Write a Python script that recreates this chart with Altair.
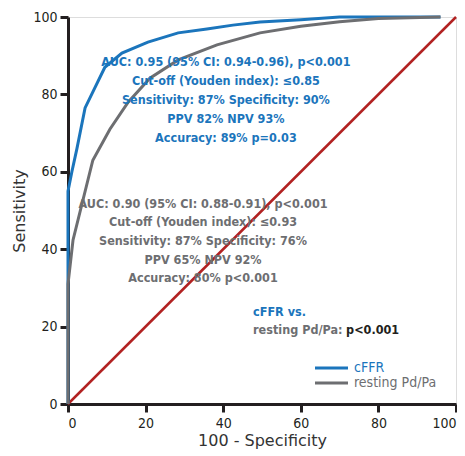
import altair as alt
import pandas as pd

# ROC curve points (x = 100 - specificity, y = sensitivity)
cffr_x = [0, 0, 1, 2.3, 4.4, 9.5, 13.9, 20.6, 28.4, 35.8, 42.5, 49.5, 60, 70, 96]
cffr_y = [0, 55, 60, 66, 76.5, 87, 90.7, 93.5, 95.9, 96.9, 97.9, 98.7, 99.3, 100, 100]
rest_x = [0, 0, 1.3, 6.4, 10.8, 15.5, 21.1, 28.4, 38.4, 49.5, 60, 70, 80, 96]
rest_y = [0, 31, 42.4, 63, 71, 78, 84.2, 88.9, 92.8, 95.9, 97.6, 98.8, 99.6, 100]
diag_x = [0, 100]
diag_y = [0, 100]

series_names = ["cFFR", "resting Pd/Pa"]
series_colors = ["#1b75bc", "#6d6e71"]

blue_lines = [
    "AUC: 0.95 (95% CI: 0.94-0.96), p<0.001",
    "Cut-off (Youden index): \u22640.85",
    "Sensitivity: 87% Specificity: 90%",
    "PPV 82% NPV 93%",
    "Accuracy: 89% p=0.03",
]
blue_text_x = [40.7] * 5
blue_text_y = [88.4, 83.5, 78.6, 73.6, 68.7]

gray_lines = [
    "AUC: 0.90 (95% CI: 0.88-0.91), p<0.001",
    "Cut-off (Youden index): \u22640.93",
    "Sensitivity: 87% Specificity: 76%",
    "PPV 65% NPV 92%",
    "Accuracy: 80% p<0.001",
]
gray_text_x = [34.8] * 5
gray_text_y = [51.7, 47.0, 42.1, 37.2, 32.6]

cmp_x = 47.7
cmp_y1 = 23.8
cmp_y2 = 19.1

FONT = "'DejaVu Sans Condensed', 'Liberation Sans Narrow', 'Roboto', sans-serif"
ANN = 12.5

curves = pd.DataFrame(
    {
        "x": cffr_x + rest_x,
        "y": cffr_y + rest_y,
        "series": [series_names[0]] * len(cffr_x) + [series_names[1]] * len(rest_x),
        "order": list(range(len(cffr_x))) + list(range(len(rest_x))),
    }
)
diag = pd.DataFrame({"x": diag_x, "y": diag_y})

xs = alt.Scale(domain=[0, 100], nice=False)
ys = alt.Scale(domain=[0, 100], nice=False)
cs = alt.Scale(domain=series_names, range=series_colors)

x_axis = alt.Axis(
    values=[0, 20, 40, 60, 80, 100],
    title="100 - Specificity",
    grid=False,
    domainColor="#231f20",
    domainWidth=3,
    tickColor="#231f20",
    tickWidth=3,
    tickSize=8,
    labelFont=FONT,
    labelFontSize=14,
    labelColor="#231f20",
    labelPadding=4,
    titleFont="DejaVu Sans",
    titleFontSize=16,
    titleFontWeight="normal",
    titleColor="#333333",
    titlePadding=2,
)
y_axis = alt.Axis(
    values=[0, 20, 40, 60, 80, 100],
    title="Sensitivity",
    grid=False,
    domainColor="#231f20",
    domainWidth=3,
    tickColor="#231f20",
    tickWidth=3,
    tickSize=8,
    labelFont=FONT,
    labelFontSize=14,
    labelColor="#231f20",
    labelPadding=3,
    titleFont="DejaVu Sans",
    titleFontSize=16,
    titleFontWeight="normal",
    titleColor="#333333",
    titlePadding=5,
)

diag_layer = alt.Chart(diag).mark_line(color="#b22222", strokeWidth=2.5).encode(
    x=alt.X("x:Q", scale=xs, axis=x_axis),
    y=alt.Y("y:Q", scale=ys, axis=y_axis),
)

curve_layer = alt.Chart(curves).mark_line(strokeWidth=3).encode(
    x=alt.X("x:Q", scale=xs),
    y=alt.Y("y:Q", scale=ys),
    order="order:Q",
    color=alt.Color("series:N", scale=cs, legend=None),
)

# manual legend (layout positions in pixels)
legend_layers = []
for i, name in enumerate(series_names):
    ldf = pd.DataFrame({"series": [name]})
    ly = 351 + i * 15
    legend_layers.append(
        alt.Chart(ldf).mark_rule(strokeWidth=3).encode(
            x=alt.value(247), x2=alt.value(280), y=alt.value(ly),
            color=alt.Color("series:N", scale=cs, legend=None),
        )
    )
    legend_layers.append(
        alt.Chart(ldf).mark_text(
            font=FONT, fontSize=14, align="left", baseline="middle"
        ).encode(
            x=alt.value(286), y=alt.value(ly), text="series:N",
            color=alt.Color("series:N", scale=cs, legend=None),
        )
    )

blue_df = pd.DataFrame({"x": blue_text_x, "y": blue_text_y, "t": blue_lines})
gray_df = pd.DataFrame({"x": gray_text_x, "y": gray_text_y, "t": gray_lines})

blue_text = alt.Chart(blue_df).mark_text(
    font=FONT, fontSize=ANN, fontWeight="bold", color="#1b75bc", align="center", baseline="middle"
).encode(x=alt.X("x:Q", scale=xs), y=alt.Y("y:Q", scale=ys), text="t:N")

gray_text = alt.Chart(gray_df).mark_text(
    font=FONT, fontSize=ANN, fontWeight="bold", color="#6d6e71", align="center", baseline="middle"
).encode(x=alt.X("x:Q", scale=xs), y=alt.Y("y:Q", scale=ys), text="t:N")

cmp1 = alt.Chart(pd.DataFrame({"x": [cmp_x], "y": [cmp_y1], "t": ["cFFR vs."]})).mark_text(
    font=FONT, fontSize=ANN, fontWeight="bold", color="#1b75bc", align="left", baseline="middle"
).encode(x=alt.X("x:Q", scale=xs), y=alt.Y("y:Q", scale=ys), text="t:N")

cmp2 = alt.Chart(pd.DataFrame({"x": [cmp_x], "y": [cmp_y2], "t": ["resting Pd/Pa:"]})).mark_text(
    font=FONT, fontSize=ANN, fontWeight="bold", color="#6d6e71", align="left", baseline="middle"
).encode(x=alt.X("x:Q", scale=xs), y=alt.Y("y:Q", scale=ys), text="t:N")

cmp3 = alt.Chart(pd.DataFrame({"x": [cmp_x], "y": [cmp_y2], "t": ["p<0.001"]})).mark_text(
    font=FONT, fontSize=ANN, fontWeight="bold", color="#231f20", align="left", baseline="middle", dx=93
).encode(x=alt.X("x:Q", scale=xs), y=alt.Y("y:Q", scale=ys), text="t:N")

chart = (
    alt.layer(diag_layer, curve_layer, blue_text, gray_text, cmp1, cmp2, cmp3, *legend_layers)
    .properties(
        width=388,
        height=387,
        autosize=alt.AutoSizeParams(type="none"),
        padding={"left": 60, "top": 9, "right": 1, "bottom": 48},
    )
    .configure_view(fill="#ece8d4", stroke=None)
    .configure(background="white")
)

chart.save("out.html", embed_options={"renderer": "svg", "actions": False})
